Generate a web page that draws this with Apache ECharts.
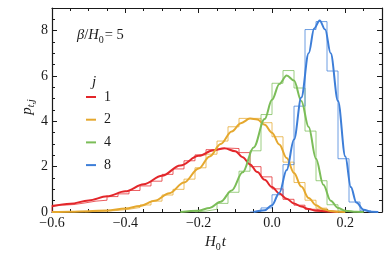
<!DOCTYPE html>
<html>
<head>
<meta charset="utf-8">
<script src="https://cdn.jsdelivr.net/npm/echarts@6/dist/echarts.min.js"></script>
<style>
html,body{margin:0;padding:0;background:#fff;}
#c{width:390px;height:254px;}
</style>
</head>
<body>
<div id="c"></div>
<script>
// ---- data ----
const seriesNames = ['1', '2', '4', '8'];
const binWidth = 0.03;

const hist1Start = -0.60;
const hist1 = [0.30, 0.33, 0.40, 0.48, 0.52, 0.68, 0.80, 0.95, 1.15, 1.36, 1.66, 1.90, 2.26, 2.52, 2.75, 2.82, 2.80, 2.62, 2.00, 1.55, 1.02, 0.56, 0.30, 0.12, 0.05, 0.01];
const hist2Start = -0.51;
const hist2 = [0.02, 0.04, 0.07, 0.12, 0.20, 0.31, 0.48, 0.75, 1.00, 1.45, 1.95, 2.55, 3.13, 3.76, 4.13, 4.13, 3.94, 3.32, 2.20, 1.30, 0.52, 0.17, 0.04];
const hist4Start = -0.21;
const hist4 = [0.04, 0.12, 0.38, 0.87, 1.80, 2.70, 4.30, 5.68, 6.24, 5.47, 3.57, 1.38, 0.32, 0.05];
const hist8Start = -0.06;
const hist8 = [0.03, 0.18, 0.76, 2.09, 4.67, 8.05, 8.40, 6.22, 2.35, 0.44, 0.05];

const curve1X = [-0.60, -0.55, -0.50, -0.45, -0.40, -0.35, -0.30, -0.25, -0.20, -0.16, -0.13, -0.10, -0.08, -0.06, -0.04, -0.02, 0.00, 0.02, 0.04, 0.06, 0.08, 0.10, 0.12, 0.15, 0.18];
const curve1Y = [0.25, 0.36, 0.51, 0.69, 0.91, 1.22, 1.60, 2.05, 2.48, 2.72, 2.81, 2.68, 2.42, 2.10, 1.76, 1.42, 1.10, 0.82, 0.58, 0.38, 0.24, 0.13, 0.06, 0.02, 0.00];
const curve2X = [-0.60, -0.55, -0.50, -0.45, -0.40, -0.36, -0.32, -0.28, -0.24, -0.20, -0.17, -0.14, -0.11, -0.085, -0.06, -0.04, -0.02, 0.00, 0.02, 0.04, 0.06, 0.08, 0.10, 0.12, 0.14, 0.16, 0.18, 0.20];
const curve2Y = [0.00, 0.01, 0.03, 0.07, 0.15, 0.27, 0.50, 0.83, 1.30, 1.92, 2.45, 3.00, 3.55, 3.92, 4.12, 4.08, 3.85, 3.50, 2.98, 2.38, 1.72, 1.12, 0.62, 0.30, 0.12, 0.04, 0.01, 0.00];
const curve4X = [-0.25, -0.20, -0.17, -0.14, -0.11, -0.08, -0.05, -0.02, 0.00, 0.02, 0.04, 0.06, 0.08, 0.10, 0.12, 0.14, 0.16, 0.18, 0.20, 0.23, 0.25];
const curve4Y = [0.00, 0.06, 0.18, 0.45, 0.95, 1.75, 2.85, 4.10, 4.95, 5.65, 6.02, 5.80, 4.90, 3.75, 2.35, 1.20, 0.50, 0.18, 0.06, 0.01, 0.00];
const curve8X = [-0.05, -0.02, 0.00, 0.02, 0.04, 0.06, 0.08, 0.10, 0.115, 0.13, 0.145, 0.16, 0.18, 0.20, 0.215, 0.23, 0.25, 0.27, 0.29];
const curve8Y = [0.00, 0.08, 0.30, 0.85, 1.85, 3.20, 5.05, 7.00, 8.10, 8.45, 8.05, 7.00, 4.90, 2.45, 1.10, 0.42, 0.10, 0.01, 0.00];

const xTicks = {min: -0.6, max: 0.3, interval: 0.2};
const yTicks = {min: 0, max: 9, interval: 2};

// ---- styles ----
const colors = ['#E3262A', '#E5A82E', '#7BBD58', '#3D7ED8'];
const FONT = 'Liberation Serif';
const INK = '#1a1a1a';

function stepData(start, h) {
  const pts = [[start, 0]];
  h.forEach((v, i) => pts.push([start + i * binWidth, v]));
  pts.push([start + h.length * binWidth, h[h.length - 1]]);
  pts.push([start + h.length * binWidth, 0]);
  return pts;
}
function zip(xs, ys) { return xs.map((x, i) => [x, ys[i]]); }

const hists = [[hist1Start, hist1], [hist2Start, hist2], [hist4Start, hist4], [hist8Start, hist8]];
const curves = [[curve1X, curve1Y], [curve2X, curve2Y], [curve4X, curve4Y], [curve8X, curve8Y]];

const series = [];
hists.forEach((h, k) => {
  series.push({
    name: 'hist' + seriesNames[k], type: 'line', step: 'end', data: stepData(h[0], h[1]),
    symbol: 'none', lineStyle: {color: colors[k], width: 1, opacity: 0.75}, itemStyle: {color: colors[k]},
    silent: true, z: 2
  });
});
curves.forEach((c, k) => {
  series.push({
    name: seriesNames[k], type: 'line', smooth: 0.35, smoothMonotone: 'x', data: zip(c[0], c[1]),
    symbol: 'none', lineStyle: {color: colors[k], width: 2}, itemStyle: {color: colors[k]},
    silent: true, z: 3
  });
});

const axisLine = {show: true, onZero: false, lineStyle: {color: INK, width: 1.2}};
function fmtX(v) {
  if (Math.abs(Math.round(v / 0.2) * 0.2 - v) > 1e-6) return '';
  const a = Math.abs(v).toFixed(1);
  return (v < -1e-9 ? '\u2212' : '') + a;
}
function fmtY(v) { return (Math.abs(v % 2) < 1e-9) ? String(Math.round(v)) : ''; }

function axisBase(t) {
  return {
    type: 'value', min: t.min, max: t.max, interval: t.interval,
    axisLine: axisLine, splitLine: {show: false},
    axisTick: {show: true, inside: true, length: 5, lineStyle: {color: INK, width: 1}},
    minorTick: {show: true, splitNumber: 4, length: 3, lineStyle: {color: INK, width: 1}},
    minorSplitLine: {show: false}
  };
}
const labelStyle = {color: INK, fontFamily: FONT, fontSize: 14};

const chart = echarts.init(document.getElementById('c'), null, {renderer: 'canvas'});
chart.setOption({
  animation: false,
  backgroundColor: '#fff',
  grid: {left: 52, right: 8, top: 8, bottom: 42, containLabel: false},
  xAxis: [
    Object.assign(axisBase(xTicks), {position: 'bottom',
      axisLabel: Object.assign({show: true, margin: 4, formatter: fmtX, showMaxLabel: false}, labelStyle)}),
    Object.assign(axisBase(xTicks), {position: 'top', axisLabel: {show: false}})
  ],
  yAxis: [
    Object.assign(axisBase(yTicks), {position: 'left',
      axisLabel: Object.assign({show: true, margin: 4, formatter: fmtY, showMaxLabel: false}, labelStyle)}),
    Object.assign(axisBase(yTicks), {position: 'right', axisLabel: {show: false}})
  ],
  legend: {
    data: seriesNames, orient: 'vertical', left: 86, top: 90, padding: 0, icon: 'rect',
    itemWidth: 10, itemHeight: 2, itemGap: 8.7, selectedMode: false,
    textStyle: {fontFamily: FONT, fontSize: 14, color: INK, lineHeight: 14, padding: [0, 0, 0, 3]}
  },
  series: series,
  graphic: [
    {type: 'text', left: 205, top: 235, style: {
      text: '{i|H}{s|0}{i|t}',
      rich: {i: {fontFamily: FONT, fontSize: 15, fontStyle: 'italic', fill: INK, lineHeight: 17, verticalAlign: 'bottom'},
             s: {fontFamily: FONT, fontSize: 10, fill: INK, lineHeight: 10, verticalAlign: 'bottom', padding: [0, 1, -2, 0]}}
    }},
    {type: 'text', x: 26, y: 107, rotation: Math.PI / 2, style: {
      text: '{i|p}{s|t,j}', align: 'center', verticalAlign: 'middle',
      rich: {i: {fontFamily: FONT, fontSize: 15, fontStyle: 'italic', fill: INK, lineHeight: 17, verticalAlign: 'bottom'},
             s: {fontFamily: FONT, fontSize: 10, fontStyle: 'italic', fill: INK, lineHeight: 10, verticalAlign: 'bottom', padding: [0, 0, -2, 0]}}
    }},
    {type: 'text', left: 77, top: 28, style: {
      text: '{i|\u03b2}{r|/}{i|H}{s|0}{r|= 5}',
      rich: {i: {fontFamily: FONT, fontSize: 14.5, fontStyle: 'italic', fill: INK, lineHeight: 16, verticalAlign: 'bottom'},
             r: {fontFamily: FONT, fontSize: 14.5, fill: INK, lineHeight: 16, verticalAlign: 'bottom'},
             s: {fontFamily: FONT, fontSize: 10, fill: INK, lineHeight: 10, verticalAlign: 'bottom', padding: [0, 1, -2, 0]}}
    }},
    {type: 'text', left: 92, top: 75, style: {
      text: 'j', fontFamily: FONT, fontSize: 15, fontStyle: 'italic', fill: INK
    }}
  ]
});
</script>
</body>
</html>
